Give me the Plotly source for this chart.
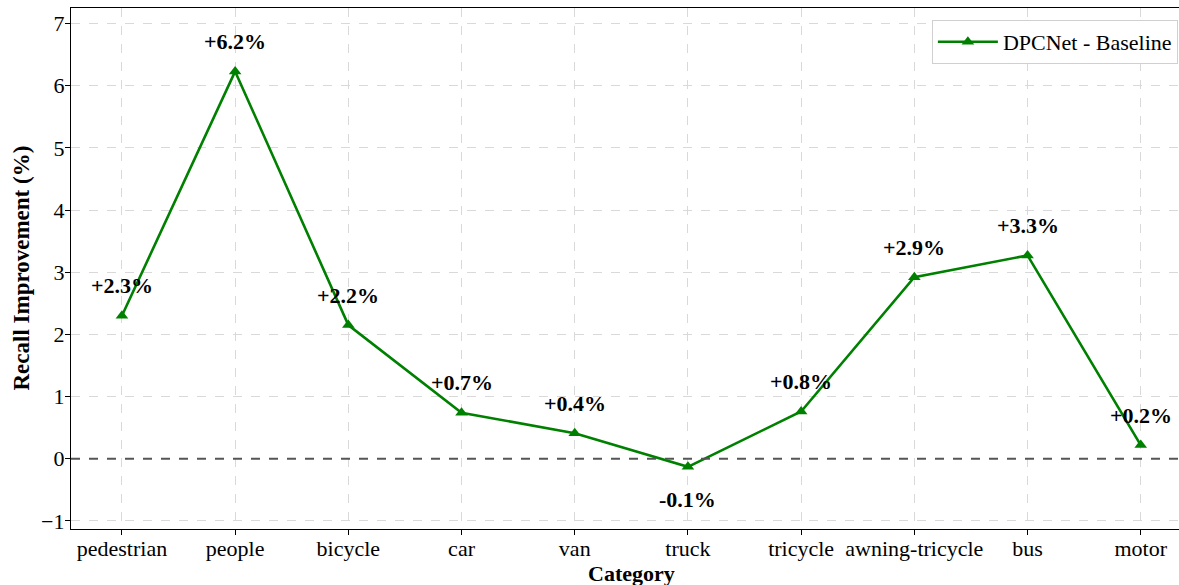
import plotly.graph_objects as go

categories = ["pedestrian", "people", "bicycle", "car", "van", "truck",
              "tricycle", "awning-tricycle", "bus", "motor"]
improvement = [2.30, 6.23, 2.15, 0.74, 0.41, -0.13, 0.76, 2.92, 3.27, 0.22]
labels = ["+2.3%", "+6.2%", "+2.2%", "+0.7%", "+0.4%", "-0.1%",
          "+0.8%", "+2.9%", "+3.3%", "+0.2%"]
series_name = "DPCNet - Baseline"
y_ticks = [-1, 0, 1, 2, 3, 4, 5, 6, 7]

FONT = "Liberation Serif, Times New Roman, serif"
GREEN = "#008000"

xs = list(range(len(categories)))

fig = go.Figure()
fig.add_trace(go.Scatter(
    x=xs, y=improvement, mode="lines+markers", name=series_name,
    line=dict(color=GREEN, width=2.6),
    marker=dict(symbol="triangle-up", size=11, color=GREEN),
))

# zero reference line
fig.add_shape(type="line", xref="paper", x0=0, x1=1, yref="y", y0=0, y1=0,
              line=dict(color="#555555", width=2, dash="dash"), layer="above")

for xi, v, t in zip(xs, improvement, labels):
    fig.add_annotation(x=xi, y=v, xref="x", yref="y", text=f"<b>{t}</b>",
                       showarrow=False, yshift=(30 if v >= 0 else -33),
                       font=dict(family=FONT, size=22, color="black"))

fig.add_annotation(x=4.5, y=0, xref="x", yref="paper", text="<b>Category</b>",
                   showarrow=False, yshift=-44, yanchor="middle",
                   font=dict(family=FONT, size=22, color="black"))
fig.add_annotation(x=0, y=0.5, xref="paper", yref="paper",
                   text="<b>Recall Improvement (%)</b>", textangle=-90,
                   showarrow=False, xshift=-50, xanchor="center", yanchor="middle",
                   font=dict(family=FONT, size=23, color="black"))

fig.update_layout(
    width=1179, height=585,
    margin=dict(l=71, r=0, t=8, b=56),
    paper_bgcolor="white", plot_bgcolor="white",
    font=dict(family=FONT, size=22, color="black"),
    showlegend=True,
    legend=dict(x=0.999, y=0.977, xanchor="right", yanchor="top",
                bgcolor="white", bordercolor="#d0d0d0", borderwidth=1,
                itemwidth=60,
                font=dict(family=FONT, size=22, color="black")),
    xaxis=dict(range=[-0.45, 9.338], tickmode="array", tickvals=xs,
               ticktext=categories, showline=True, linecolor="black",
               linewidth=1.2, mirror=True, ticks="outside", ticklen=5,
               tickcolor="black", showgrid=True, gridcolor="#d9d9d9",
               griddash="dash", gridwidth=1, zeroline=False,
               ticklabelstandoff=-6,
               tickfont=dict(family=FONT, size=22)),
    yaxis=dict(range=[-1.13, 7.25], tickmode="array", tickvals=y_ticks,
               showline=True, linecolor="black", linewidth=1.2, mirror=False,
               ticks="outside", ticklen=5, tickcolor="black",
               showgrid=True, gridcolor="#d9d9d9", griddash="dash", gridwidth=1,
               zeroline=False, ticklabelstandoff=-4,
               tickfont=dict(family=FONT, size=22)),
)

fig.write_html(
    "out.html",
    config={"displayModeBar": False},
    post_script="document.body.style.margin='0';document.body.style.padding='0';"
                "document.documentElement.style.overflow='hidden';",
)
